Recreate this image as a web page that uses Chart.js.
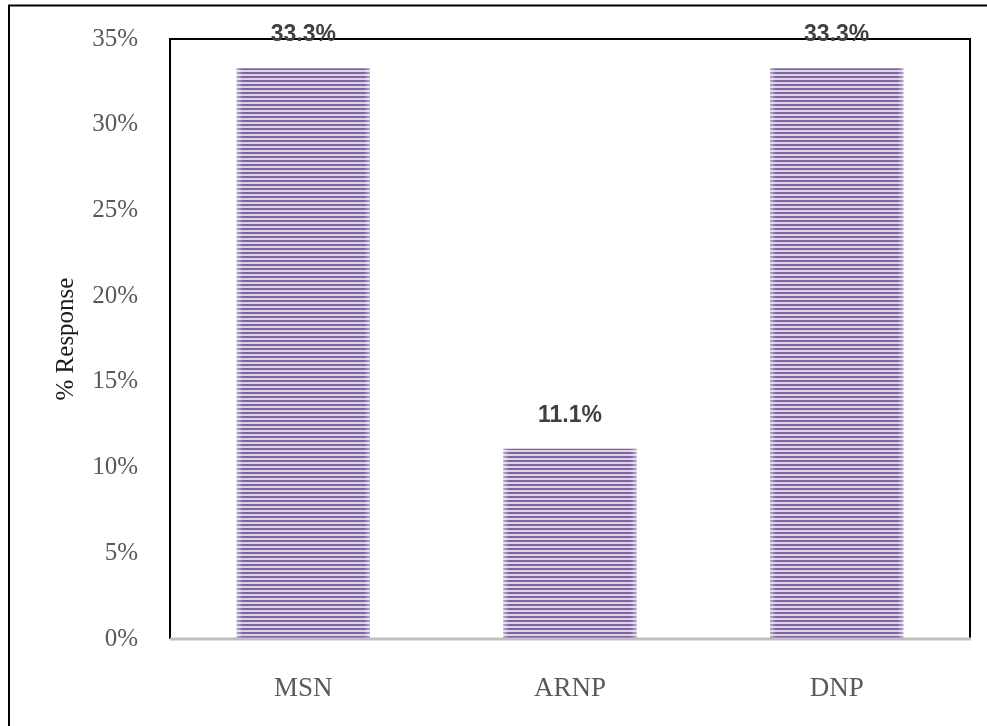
<!DOCTYPE html>
<html>
<head>
<meta charset="utf-8">
<script src="https://cdn.jsdelivr.net/npm/chart.js@4.4.0/dist/chart.umd.min.js"></script>
<style>
  html, body { margin: 0; padding: 0; background: #fff; }
  #wrap { width: 987px; height: 726px; position: relative; }
</style>
</head>
<body>
<div id="wrap"><canvas id="c" width="987" height="726"></canvas></div>
<script>
const categories = ['MSN', 'ARNP', 'DNP'];
const responsePct = [33.3, 11.1, 33.3];
const yAxisTitle = '% Response';
const yMax = 35;
const yStep = 5;

function makeStripePattern() {
  const p = document.createElement('canvas');
  p.width = 4; p.height = 4;
  const g = p.getContext('2d');
  g.fillStyle = '#DCD3E8';
  g.fillRect(0, 0, 4, 4);
  g.fillStyle = '#8064A2';
  g.fillRect(0, 0, 4, 2);
  return g.createPattern(p, 'repeat');
}

const framePlugin = {
  id: 'frame',
  beforeDraw(chart) {
    const ctx = chart.ctx;
    ctx.save();
    ctx.fillStyle = '#fff';
    ctx.fillRect(0, 0, chart.width, chart.height);
    ctx.strokeStyle = '#000';
    ctx.lineWidth = 2;
    ctx.beginPath();
    ctx.moveTo(9, chart.height + 2);
    ctx.lineTo(9, 5.5);
    ctx.lineTo(chart.width + 2, 5.5);
    ctx.stroke();
    ctx.restore();
  },
  afterDatasetsDraw(chart) {
    const ctx = chart.ctx;
    const a = chart.chartArea;
    ctx.save();
    const meta = chart.getDatasetMeta(0);
    meta.data.forEach(bar => {
      const w = bar.width;
      const left = bar.x - w / 2, right = bar.x + w / 2;
      const top = bar.y, h = bar.base - bar.y;
      let gl = ctx.createLinearGradient(left, 0, left + 6, 0);
      gl.addColorStop(0, 'rgba(255,255,255,0.45)');
      gl.addColorStop(1, 'rgba(255,255,255,0)');
      ctx.fillStyle = gl;
      ctx.fillRect(left, top, 6, h);
      let gr = ctx.createLinearGradient(right - 6, 0, right, 0);
      gr.addColorStop(0, 'rgba(255,255,255,0)');
      gr.addColorStop(1, 'rgba(255,255,255,0.45)');
      ctx.fillStyle = gr;
      ctx.fillRect(right - 6, top, 6, h);
    });
    ctx.strokeStyle = '#000';
    ctx.lineWidth = 2;
    ctx.beginPath();
    ctx.moveTo(a.left, a.bottom);
    ctx.lineTo(a.left, a.top);
    ctx.lineTo(a.right, a.top);
    ctx.lineTo(a.right, a.bottom + 1);
    ctx.stroke();
    ctx.strokeStyle = '#BFBFBF';
    ctx.lineWidth = 3;
    ctx.beginPath();
    ctx.moveTo(a.left, a.bottom);
    ctx.lineTo(a.right + 1, a.bottom);
    ctx.stroke();
    ctx.fillStyle = '#404040';
    ctx.font = 'bold 23px "Liberation Sans", Arial, sans-serif';
    ctx.textAlign = 'center';
    ctx.textBaseline = 'middle';
    meta.data.forEach((bar, i) => {
      ctx.fillText(responsePct[i].toFixed(1) + '%', bar.x, bar.y - 33);
    });
    ctx.restore();
  }
};

new Chart(document.getElementById('c'), {
  type: 'bar',
  data: {
    labels: categories,
    datasets: [{
      data: responsePct,
      backgroundColor: makeStripePattern(),
      borderWidth: 0,
      barPercentage: 0.5,
      categoryPercentage: 1.0
    }]
  },
  options: {
    responsive: false,
    animation: false,
    devicePixelRatio: 1,
    layout: { padding: { top: 39, right: 17, left: 0, bottom: 0 } },
    plugins: { legend: { display: false }, tooltip: { enabled: false } },
    scales: {
      x: {
        grid: { display: false, drawTicks: false },
        border: { display: false },
        ticks: {
          color: '#595959',
          font: { family: '"Liberation Serif", "Times New Roman", serif', size: 27 },
          padding: 34
        },
        afterFit(s) { s.height = 87; s.paddingLeft = 0; s.paddingRight = 0; }
      },
      y: {
        min: 0,
        max: yMax,
        grid: { display: false, drawTicks: false },
        border: { display: false },
        ticks: {
          stepSize: yStep,
          color: '#595959',
          font: { family: '"Liberation Serif", "Times New Roman", serif', size: 25 },
          padding: 32,
          callback: v => v + '%'
        },
        title: {
          display: true,
          text: yAxisTitle,
          color: '#1a1a1a',
          font: { family: '"Liberation Serif", "Times New Roman", serif', size: 25 },
          padding: { top: 51, bottom: 0 }
        },
        afterFit(s) { s.width = 170; s.paddingTop = 0; s.paddingBottom = 0; }
      }
    }
  },
  plugins: [framePlugin]
});
</script>
</body>
</html>
